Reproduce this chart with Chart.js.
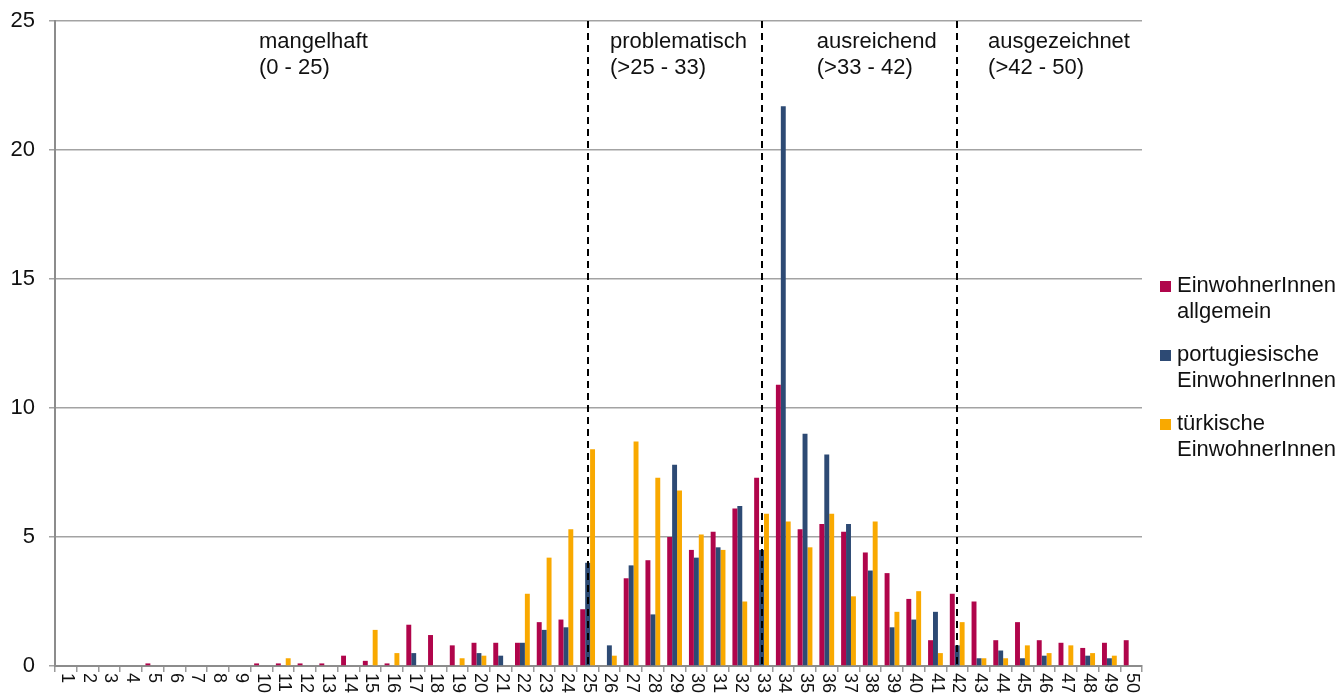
<!DOCTYPE html>
<html>
<head>
<meta charset="utf-8">
<script src="https://cdn.jsdelivr.net/npm/chart.js@4"></script>
<style>
  body { margin: 0; background: #fff; }
  #wrap { width: 1341px; height: 695px; }
</style>
</head>
<body>
<div id="wrap"><canvas id="scoreChart" width="1341" height="695"></canvas></div>
<script>
const categories = [
  "1", "2", "3", "4", "5", "6", "7", "8", "9", "10",
  "11", "12", "13", "14", "15", "16", "17", "18", "19", "20",
  "21", "22", "23", "24", "25", "26", "27", "28", "29", "30",
  "31", "32", "33", "34", "35", "36", "37", "38", "39", "40",
  "41", "42", "43", "44", "45", "46", "47", "48", "49", "50",
];

const allgemein = [
  0, 0, 0, 0, 0.1, 0, 0, 0, 0, 0.1,
  0.1, 0.1, 0.1, 0.4, 0.2, 0.1, 1.6, 1.2, 0.8, 0.9,
  0.9, 0.9, 1.7, 1.8, 2.2, 0, 3.4, 4.1, 5.0, 4.5,
  5.2, 6.1, 7.3, 10.9, 5.3, 5.5, 5.2, 4.4, 3.6, 2.6,
  1.0, 2.8, 2.5, 1.0, 1.7, 1.0, 0.9, 0.7, 0.9, 1.0,
];

const portugiesisch = [
  0, 0, 0, 0, 0, 0, 0, 0, 0, 0,
  0, 0, 0, 0, 0, 0, 0.5, 0, 0, 0.5,
  0.4, 0.9, 1.4, 1.5, 4.0, 0.8, 3.9, 2.0, 7.8, 4.2,
  4.6, 6.2, 4.5, 21.7, 9.0, 8.2, 5.5, 3.7, 1.5, 1.8,
  2.1, 0.8, 0.3, 0.6, 0.3, 0.4, 0, 0.4, 0.3, 0,
];

const tuerkisch = [
  0, 0, 0, 0, 0, 0, 0, 0, 0, 0,
  0.3, 0, 0, 0, 1.4, 0.5, 0, 0, 0.3, 0.4,
  0, 2.8, 4.2, 5.3, 8.4, 0.4, 8.7, 7.3, 6.8, 5.1,
  4.5, 2.5, 5.9, 5.6, 4.6, 5.9, 2.7, 5.6, 2.1, 2.9,
  0.5, 1.7, 0.3, 0.3, 0.8, 0.5, 0.8, 0.5, 0.4, 0,
];

const yTicks = [0, 5, 10, 15, 20, 25];

// zone borders (category labels) and the zone captions
const zoneBorders = ["25", "33", "42"];
const zoneNames = [
  ["mangelhaft", "(0 - 25)"],
  ["problematisch", "(>25 - 33)"],
  ["ausreichend", "(>33 - 42)"],
  ["ausgezeichnet", "(>42 - 50)"],
];
// left edge of each caption, in category index units
const zoneNameAt = [8.88, 25.03, 34.54, 42.42];

const FONT = "'Liberation Sans', Arial, sans-serif";

const zonesPlugin = {
  id: "zones",
  afterDatasetsDraw(chart) {
    const { ctx, chartArea, scales } = chart;
    ctx.save();
    ctx.strokeStyle = "#000";
    ctx.lineWidth = 2;
    ctx.setLineDash([7, 5]);
    zoneBorders.forEach((c) => {
      const x = Math.round(scales.x.getPixelForValue(categories.indexOf(c)));
      ctx.beginPath();
      ctx.moveTo(x, chartArea.top);
      ctx.lineTo(x, chartArea.bottom);
      ctx.stroke();
    });
    ctx.setLineDash([]);
    ctx.fillStyle = "#111";
    ctx.font = "22px " + FONT;
    ctx.textAlign = "left";
    ctx.textBaseline = "alphabetic";
    zoneNames.forEach((lines, i) => {
      const x = scales.x.getPixelForValue(zoneNameAt[i]);
      lines.forEach((t, j) => ctx.fillText(t, x, chartArea.top + 27 + j * 26));
    });
    ctx.restore();
  },
  afterDraw(chart) {
    const { ctx, chartArea, scales } = chart;
    // x labels turned a quarter clockwise
    ctx.save();
    ctx.fillStyle = "#111";
    ctx.font = "18px " + FONT;
    ctx.textAlign = "left";
    ctx.textBaseline = "middle";
    categories.forEach((c, i) => {
      const x = scales.x.getPixelForValue(i);
      ctx.save();
      ctx.translate(x + 1, chartArea.bottom + 7);
      ctx.rotate(Math.PI / 2);
      ctx.fillText(c, 0, 0);
      ctx.restore();
    });
    ctx.restore();

    // legend at the right
    ctx.save();
    ctx.font = "22px " + FONT;
    ctx.textAlign = "left";
    ctx.textBaseline = "alphabetic";
    chart.data.datasets.forEach((ds, i) => {
      const base = 292 + i * 69;
      ctx.fillStyle = ds.backgroundColor;
      ctx.fillRect(1160, base - 11, 11, 11);
      ctx.fillStyle = "#111";
      ds.label.forEach((t, j) => ctx.fillText(t, 1177, base + j * 26));
    });
    ctx.restore();
  },
};

new Chart(document.getElementById("scoreChart"), {
  type: "bar",
  data: {
    labels: categories,
    datasets: [
      {
        label: ["EinwohnerInnen", "allgemein"],
        data: allgemein,
        backgroundColor: "#B0054B",
      },
      {
        label: ["portugiesische", "EinwohnerInnen"],
        data: portugiesisch,
        backgroundColor: "#2D4A74",
      },
      {
        label: ["türkische", "EinwohnerInnen"],
        data: tuerkisch,
        backgroundColor: "#F9A900",
      },
    ],
  },
  plugins: [zonesPlugin],
  options: {
    responsive: false,
    animation: false,
    categoryPercentage: 0.68,
    barPercentage: 1,
    layout: {
      padding: { top: 21, right: 199, bottom: 0, left: 0 },
    },
    plugins: {
      legend: { display: false },
      tooltip: { enabled: false },
    },
    scales: {
      x: {
        ticks: { display: false },
        grid: {
          drawOnChartArea: false,
          color: "#9a9a9a",
          tickLength: 6,
          lineWidth: 1.5,
        },
        border: { color: "#8c8c8c", width: 2 },
        afterFit(scale) {
          scale.height = 29;
          scale.paddingLeft = 0;
          scale.paddingRight = 0;
        },
      },
      y: {
        min: 0,
        max: 25,
        afterBuildTicks(scale) {
          scale.ticks = yTicks.map((v) => ({ value: v }));
        },
        ticks: {
          color: "#111",
          padding: 14,
          font: { family: FONT, size: 22 },
        },
        grid: {
          color: "#a3a3a3",
          lineWidth: 1.5,
          tickLength: 6,
        },
        border: { color: "#8c8c8c", width: 2 },
        afterFit(scale) {
          scale.width = 55;
          scale.paddingTop = 0;
          scale.paddingBottom = 0;
        },
      },
    },
  },
});
</script>
</body>
</html>
